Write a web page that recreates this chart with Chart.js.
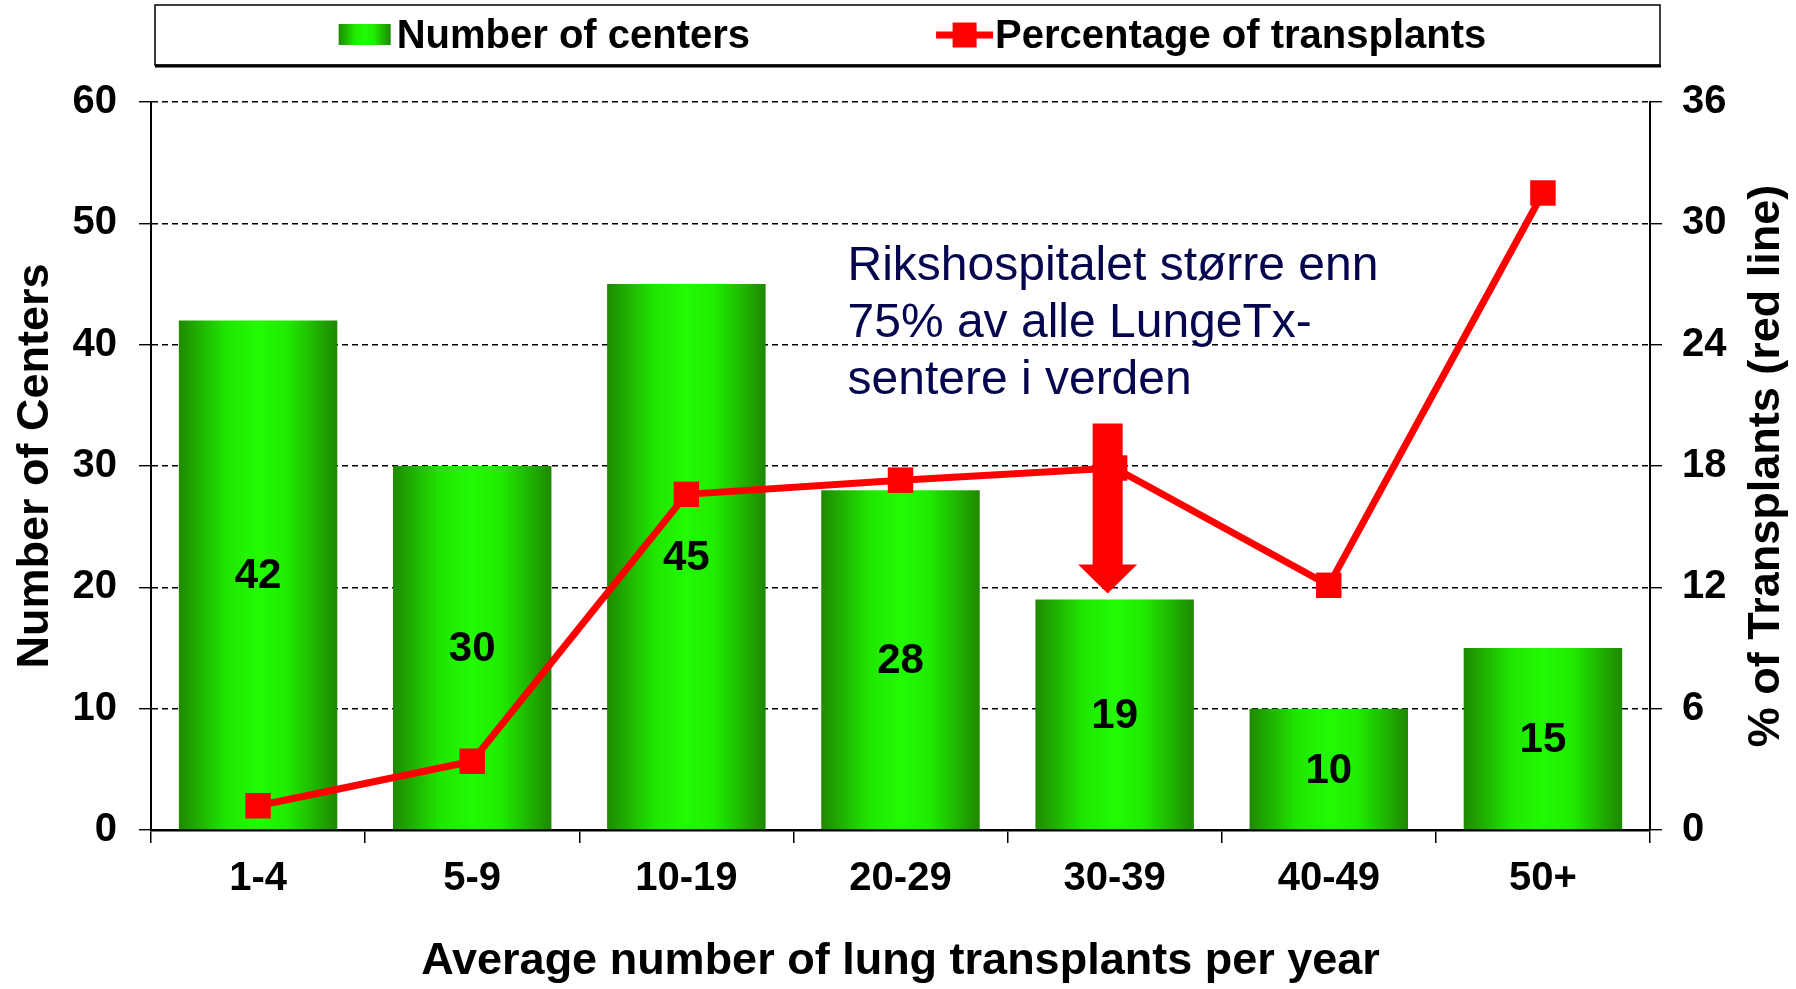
<!DOCTYPE html>
<html>
<head>
<meta charset="utf-8">
<script src="https://cdn.jsdelivr.net/npm/chart.js@4.4.1/dist/chart.umd.min.js"></script>
<style>
  html, body { margin: 0; padding: 0; background: #fff; }
  #wrap { width: 1796px; height: 989px; }
</style>
</head>
<body>
<div id="wrap"><canvas id="chart" width="1796" height="989"></canvas></div>
<script>
const categories = ['1-4', '5-9', '10-19', '20-29', '30-39', '40-49', '50+'];
const centers = [42, 30, 45, 28, 19, 10, 15];
const transplantPct = [1.2, 3.4, 16.6, 17.3, 17.9, 12.1, 31.5];
const leftTicks = [0, 10, 20, 30, 40, 50, 60];
const rightTicks = [0, 6, 12, 18, 24, 30, 36];
const rightTitle = '% of Transplants (red line)';
const noteLines = ['Rikshospitalet større enn', '75% av alle LungeTx-', 'sentere i verden'];
// the red arrow points down onto the 30-39 bar (values on the left axis)
const arrowTarget = { category: '30-39', from: 33.5, to: 19.5 };

const FONT = "'Liberation Sans', Arial, sans-serif";
const BAR_FRACTION = 0.74;

function barGradient(ctx, x0, x1) {
    const g = ctx.createLinearGradient(x0, 0, x1, 0);
    g.addColorStop(0, '#1e8a00');
    g.addColorStop(0.3, '#20e600');
    g.addColorStop(0.5, '#22fb04');
    g.addColorStop(0.68, '#20ec00');
    g.addColorStop(1, '#1e8800');
    return g;
}

// legend drawn by hand: framed box with a gradient swatch and a line+square marker
const legendBox = {
    id: 'legendBox',
    afterDraw(chart) {
        const c = chart.ctx;
        const a = chart.chartArea;
        const left = a.left + 4, right = a.right + 10, top = 5, bottom = 65;
        const ds = chart.data.datasets;
        c.save();
        c.strokeStyle = '#000';
        c.lineWidth = 1.5;
        c.strokeRect(left, top, right - left, bottom - top);
        c.lineWidth = 3;
        c.beginPath();
        c.moveTo(left, bottom + 1);
        c.lineTo(right + 1, bottom + 1);
        c.stroke();

        c.font = 'bold 40px ' + FONT;
        c.textBaseline = 'alphabetic';
        const w0 = c.measureText(ds[0].label).width;
        const w1 = c.measureText(ds[1].label).width;
        const total = 52 + 6 + w0 + 186 + 57 + 2 + w1;
        let x = (left + right) / 2 - total / 2 + 5;

        c.fillStyle = barGradient(c, x, x + 52);
        c.fillRect(x, 24, 52, 21);
        x += 58;
        c.fillStyle = '#000';
        c.fillText(ds[0].label, x, 48);
        x += w0 + 186;

        c.strokeStyle = '#ff0000';
        c.lineWidth = 7;
        c.beginPath();
        c.moveTo(x, 35);
        c.lineTo(x + 57, 35);
        c.stroke();
        c.fillStyle = '#ff0000';
        c.fillRect(x + 28.5 - 12, 35 - 12.5, 24, 25);
        x += 59;
        c.fillStyle = '#000';
        c.fillText(ds[1].label, x, 48);
        c.restore();
    }
};

// numbers in the middle of each bar
const barLabels = {
    id: 'barLabels',
    afterDatasetDraw(chart, args) {
        if (args.index !== 0) return;
        const c = chart.ctx;
        const meta = chart.getDatasetMeta(0);
        c.save();
        c.font = 'bold 42px ' + FONT;
        c.fillStyle = '#000';
        c.textAlign = 'center';
        c.textBaseline = 'middle';
        meta.data.forEach((bar, i) => {
            c.fillText(String(centers[i]), bar.x, (bar.y + bar.base) / 2 + 2);
        });
        c.restore();
    }
};

// the note text, the big red arrow and the right axis title (reads bottom to top)
const note = {
    id: 'note',
    afterDatasetsDraw(chart) {
        const c = chart.ctx;
        const xs = chart.scales.x;
        const ys = chart.scales.y;
        c.save();

        const ax = xs.getPixelForValue(categories.indexOf(arrowTarget.category)) - 7;
        const yTop = ys.getPixelForValue(arrowTarget.from);
        const yTip = ys.getPixelForValue(arrowTarget.to);
        const headH = 29, headW = 59, shaftW = 30;
        c.fillStyle = '#ff0000';
        c.beginPath();
        c.moveTo(ax - shaftW / 2, yTop);
        c.lineTo(ax + shaftW / 2, yTop);
        c.lineTo(ax + shaftW / 2, yTip - headH);
        c.lineTo(ax + headW / 2, yTip - headH);
        c.lineTo(ax, yTip);
        c.lineTo(ax - headW / 2, yTip - headH);
        c.lineTo(ax - shaftW / 2, yTip - headH);
        c.closePath();
        c.fill();

        c.font = '48px ' + FONT;
        c.fillStyle = '#06064f';
        c.textAlign = 'left';
        c.textBaseline = 'alphabetic';
        const tx = xs.getPixelForValue(3) - 53;
        let ty = ys.getPixelForValue(45.3);
        noteLines.forEach(line => {
            c.fillText(line, tx, ty);
            ty += 57;
        });

        const a = chart.chartArea;
        c.translate(1767, (a.top + a.bottom) / 2);
        c.rotate(-Math.PI / 2);
        c.font = 'bold 45px ' + FONT;
        c.fillStyle = '#000';
        c.textAlign = 'center';
        c.textBaseline = 'middle';
        c.fillText(rightTitle, 0, 0);
        c.restore();
    }
};

const ctx = document.getElementById('chart').getContext('2d');

let chart = new Chart(ctx, {
    type: 'bar',
    data: {
        labels: categories,
        datasets: [{
            label: 'Number of centers',
            data: centers,
            yAxisID: 'y',
            order: 1,
            barPercentage: BAR_FRACTION,
            categoryPercentage: 1,
            backgroundColor: function (context) {
                const chart = context.chart;
                const xs = chart.scales.x;
                if (!xs || context.type !== 'data') return '#22dd00';
                const cx = xs.getPixelForValue(context.dataIndex);
                const half = (xs.width / categories.length) * BAR_FRACTION / 2;
                if (!isFinite(cx) || !isFinite(half) || half <= 0) return '#22dd00';
                return barGradient(chart.ctx, cx - half, cx + half);
            },
            borderWidth: 0
        }, {
            type: 'line',
            label: 'Percentage of transplants',
            data: transplantPct,
            yAxisID: 'y1',
            order: 0,
            borderColor: '#ff0000',
            borderWidth: 7,
            pointStyle: 'rect',
            pointRadius: 18,
            pointHoverRadius: 18,
            pointBackgroundColor: '#ff0000',
            pointBorderWidth: 0,
            tension: 0
        }]
    },
    options: {
        responsive: false,
        animation: false,
        devicePixelRatio: 1,
        layout: { padding: { top: 102, left: 0, right: 0, bottom: 0 } },
        plugins: {
            legend: { display: false },
            tooltip: { enabled: false }
        },
        scales: {
            x: {
                offset: true,
                grid: { drawOnChartArea: false, offset: true, color: '#000', lineWidth: 1.5, tickLength: 13 },
                border: { color: '#000', width: 2.5 },
                ticks: {
                    color: '#000',
                    font: { family: FONT, size: 40, weight: 'bold' },
                    padding: 12,
                    maxRotation: 0
                },
                title: {
                    display: true,
                    text: 'Average number of lung transplants per year',
                    color: '#000',
                    font: { family: FONT, size: 45, weight: 'bold' },
                    padding: { top: 0, bottom: 0 }
                },
                afterFit(scale) { scale.height = 159; }
            },
            y: {
                position: 'left',
                min: leftTicks[0],
                max: leftTicks[leftTicks.length - 1],
                afterBuildTicks(scale) { scale.ticks = leftTicks.map(v => ({ value: v })); },
                grid: { color: '#000', lineWidth: 1.4, tickLength: 12 },
                border: { color: '#000', width: 2, dash: [6, 4] },
                ticks: {
                    color: '#000',
                    font: { family: FONT, size: 40, weight: 'bold' },
                    padding: 22
                },
                title: {
                    display: true,
                    text: 'Number of Centers',
                    color: '#000',
                    font: { family: FONT, size: 45, weight: 'bold' },
                    padding: { top: 9, bottom: 0 }
                },
                afterFit(scale) { scale.width = 151; }
            },
            y1: {
                position: 'right',
                min: rightTicks[0],
                max: rightTicks[rightTicks.length - 1],
                afterBuildTicks(scale) { scale.ticks = rightTicks.map(v => ({ value: v })); },
                grid: { drawOnChartArea: false, color: '#000', lineWidth: 1.4, tickLength: 12 },
                border: { color: '#000', width: 2 },
                ticks: {
                    color: '#000',
                    font: { family: FONT, size: 40, weight: 'bold' },
                    padding: 20
                },
                title: { display: false },
                afterFit(scale) { scale.width = 146; }
            }
        }
    },
    plugins: [legendBox, barLabels, note]
});
</script>
</body>
</html>
